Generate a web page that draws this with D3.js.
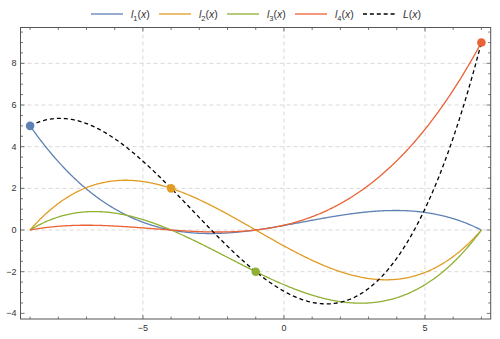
<!DOCTYPE html>
<html><head><meta charset="utf-8">
<script src="https://cdn.jsdelivr.net/npm/d3@7"></script>
<style>body{margin:0;background:#fff}svg{display:block}</style>
</head><body>
<svg id="c" width="500" height="339"></svg>
<script>
// Interpolation nodes (the marked dots)
const nodeX = [-9, -4, -1, 7];
const nodeY = [5, 2, -2, 9];
const seriesNames = ["1", "2", "3", "4"];
const colors = ["#5E81B5", "#E19C24", "#8FB032", "#EB6235"];
const xTicks = [-5, 0, 5];
const yTicks = [-4, -2, 0, 2, 4, 6, 8];

const svg = d3.select("#c");
const W = 500, H = 339;
const m = {l: 20.5, r: 9.3, t: 27.5, b: 20};
const x = d3.scaleLinear().domain([-9.34, 7.33]).range([m.l, W - m.r]);
const y = d3.scaleLinear().domain([-4.27, 9.72]).range([H - m.b, m.t]);

// Lagrange basis scaled by node value: y_i * l_i(t)
function basis(i, t) {
  let p = 1;
  for (let j = 0; j < nodeX.length; j++) if (j !== i) p *= (t - nodeX[j]) / (nodeX[i] - nodeX[j]);
  return nodeY[i] * p;
}
const ts = d3.range(0, 401).map(k => nodeX[0] + (nodeX[3] - nodeX[0]) * k / 400);

const g = svg.append("g");
// grid
g.selectAll(".gx").data(xTicks).join("line")
  .attr("x1", d => x(d)).attr("x2", d => x(d)).attr("y1", m.t).attr("y2", H - m.b)
  .attr("stroke", "#d9d9d9").attr("stroke-dasharray", "4,3").attr("stroke-width", 1);
g.selectAll(".gy").data(yTicks.filter(d => d > -4)).join("line")
  .attr("y1", d => y(d)).attr("y2", d => y(d)).attr("x1", m.l).attr("x2", W - m.r)
  .attr("stroke", "#d9d9d9").attr("stroke-dasharray", "4,3").attr("stroke-width", 1);

const clip = svg.append("clipPath").attr("id", "clp").append("rect")
  .attr("x", m.l).attr("y", m.t).attr("width", W - m.l - m.r).attr("height", H - m.t - m.b);
const plot = svg.append("g").attr("clip-path", "url(#clp)");
const line = d3.line().x(d => x(d[0])).y(d => y(d[1]));

for (let i = 0; i < 4; i++) {
  plot.append("path").datum(ts.map(t => [t, basis(i, t)]))
    .attr("d", line).attr("fill", "none").attr("stroke", colors[i]).attr("stroke-width", 1.3);
}
plot.append("path").datum(ts.map(t => [t, d3.sum([0,1,2,3], i => basis(i, t))]))
  .attr("d", line).attr("fill", "none").attr("stroke", "#000").attr("stroke-width", 1.3)
  .attr("stroke-dasharray", "4,3");
nodeX.forEach((nx, i) => {
  svg.append("circle").attr("cx", x(nx)).attr("cy", y(nodeY[i])).attr("r", 4.3).attr("fill", colors[i]);
});

// frame and ticks
const fc = "#555";
svg.append("rect").attr("x", m.l).attr("y", m.t).attr("width", W - m.l - m.r).attr("height", H - m.t - m.b)
  .attr("fill", "none").attr("stroke", fc).attr("stroke-width", 1);
const xMinor = d3.range(-9, 8, 1);
const yMinor = d3.range(-4, 9.6, 0.5);
const tk = svg.append("g").attr("stroke", fc).attr("stroke-width", 0.8);
xMinor.forEach(v => {
  const L = xTicks.includes(v) ? 4 : 2.5;
  tk.append("line").attr("x1", x(v)).attr("x2", x(v)).attr("y1", H - m.b).attr("y2", H - m.b - L);
  tk.append("line").attr("x1", x(v)).attr("x2", x(v)).attr("y1", m.t).attr("y2", m.t + L);
});
yMinor.forEach(v => {
  const L = yTicks.includes(v) ? 4 : 2.5;
  tk.append("line").attr("y1", y(v)).attr("y2", y(v)).attr("x1", m.l).attr("x2", m.l + L);
  tk.append("line").attr("y1", y(v)).attr("y2", y(v)).attr("x1", W - m.r).attr("x2", W - m.r - L);
});
const fmt = d => d < 0 ? "\u2212" + Math.abs(d) : String(d);
svg.selectAll(".xl").data(xTicks).join("text")
  .attr("x", d => x(d)).attr("y", H - m.b + 12).attr("text-anchor", "middle")
  .attr("font-family", "Liberation Sans, Arial, sans-serif").attr("font-size", 9).attr("fill", "#333")
  .text(fmt);
svg.selectAll(".yl").data(yTicks).join("text")
  .attr("x", m.l - 4).attr("y", d => y(d) + 3).attr("text-anchor", "end")
  .attr("font-family", "Liberation Sans, Arial, sans-serif").attr("font-size", 9).attr("fill", "#333")
  .text(fmt);

// legend
const legX = [91, 159, 227, 295, 363];
const lg = svg.append("g").attr("font-family", "Liberation Sans, Arial, sans-serif").attr("font-size", 10.5).attr("fill", "#333");
for (let i = 0; i < 5; i++) {
  const ly = 14;
  const ln = lg.append("line").attr("x1", legX[i]).attr("x2", legX[i] + 32).attr("y1", ly).attr("y2", ly)
    .attr("stroke", i < 4 ? colors[i] : "#000").attr("stroke-width", 1.3);
  if (i === 4) ln.attr("stroke-dasharray", "4,2.9");
  const t = lg.append("text").attr("x", legX[i] + 40).attr("y", ly + 4);
  if (i < 4) {
    t.append("tspan").attr("font-style", "italic").text("l");
    t.append("tspan").attr("font-size", 7.5).attr("dy", 2.5).text(seriesNames[i]);
    t.append("tspan").attr("dy", -2.5).text("(");
    t.append("tspan").attr("font-style", "italic").text("x");
    t.append("tspan").text(")");
  } else {
    t.append("tspan").attr("font-style", "italic").text("L");
    t.append("tspan").text("(");
    t.append("tspan").attr("font-style", "italic").text("x");
    t.append("tspan").text(")");
  }
}
</script>
</body></html>
